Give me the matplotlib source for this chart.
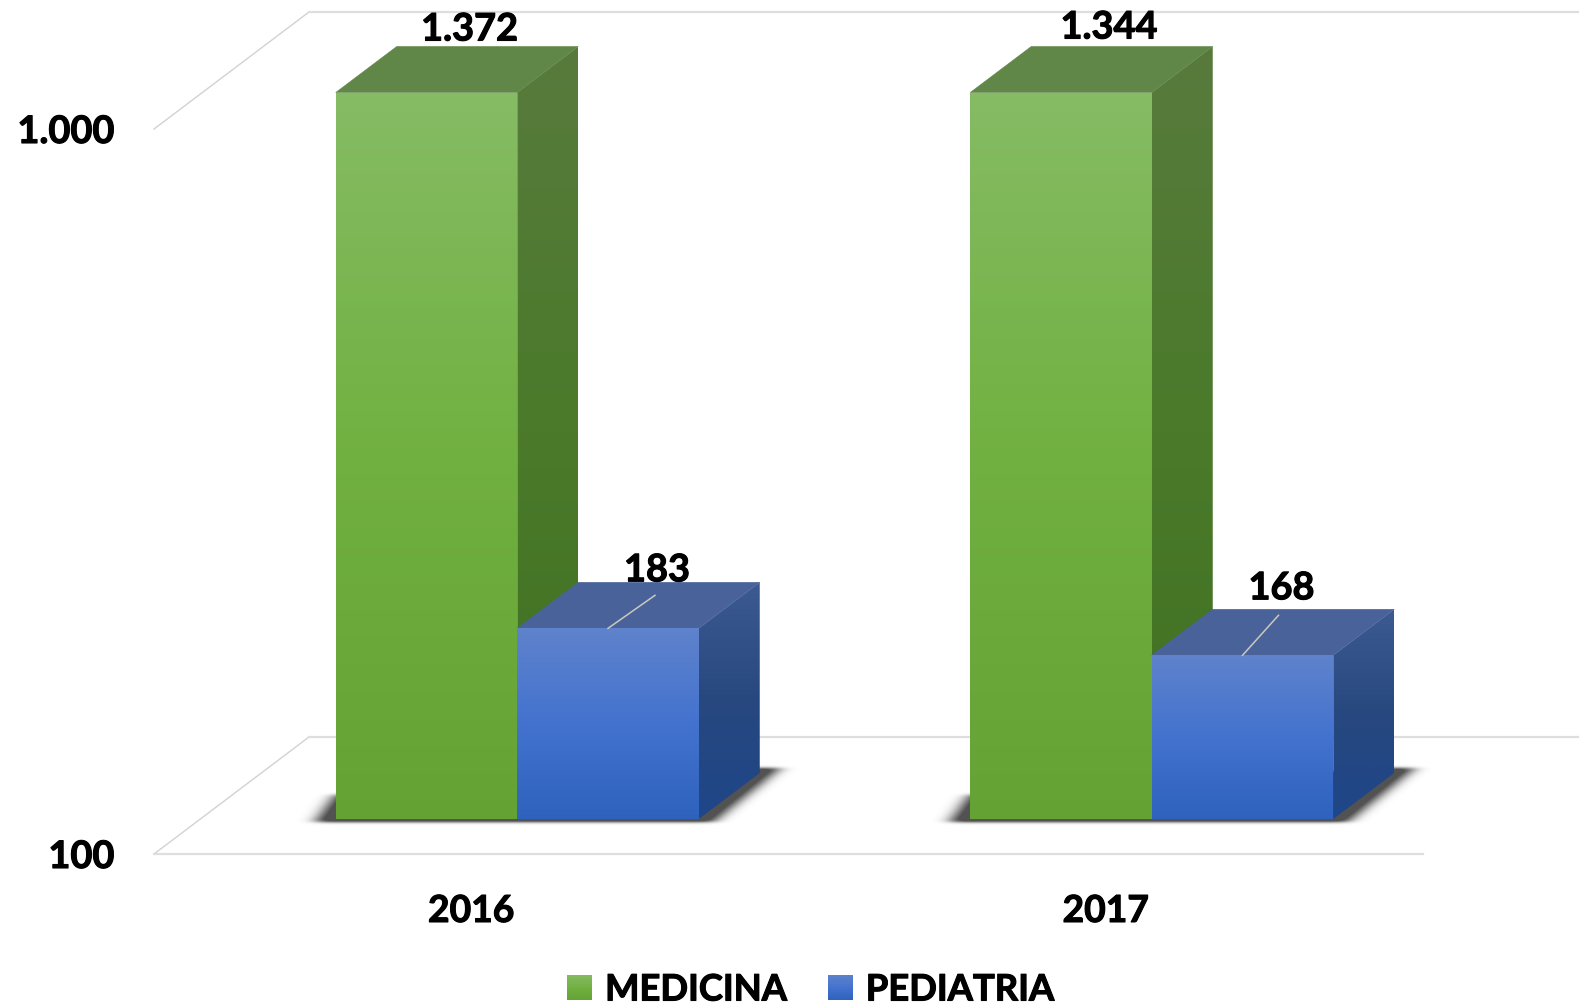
import numpy as np
import matplotlib
matplotlib.use("Agg")
import matplotlib.pyplot as plt
import matplotlib.patheffects as pe
from matplotlib.colors import LinearSegmentedColormap
from matplotlib.image import AxesImage
from matplotlib.legend_handler import HandlerBase
from matplotlib.patches import Patch, Polygon, Rectangle
from matplotlib.path import Path
from matplotlib.transforms import IdentityTransform

# ---- data ----
years = ["2016", "2017"]
series = ["MEDICINA", "PEDIATRIA"]
medicina = [1372, 1344]
pediatria = [183, 168]
medicina_labels = ["1.372", "1.344"]
pediatria_labels = ["183", "168"]
y_ticks = [100, 1000]
y_tick_labels = ["100", "1.000"]

# ---- style ----
W, H = 1588, 1005
DPI = 100
FONT = ["Lato", "DejaVu Sans"]
FS = 27.3
XFS = 26.8
plt.rcParams["font.family"] = FONT
plt.rcParams["font.weight"] = "bold"
thick = [pe.withStroke(linewidth=0.8, foreground="black")]

front_cols = [["#85BB63", "#70B040", "#64A233"], ["#5E82CB", "#4272CE", "#2E62BC"]]
side_cols = [["#587A3D", "#4A7A2A", "#3F6F20"], ["#3D5A92", "#27487F", "#1F4689"]]
top_cols = ["#608747", "#49639A"]
grid_col = "#DEDEDE"
diag_col = "#D2D2D2"
leader_col = "#C9C9BE"

BAR_W = 181.5 / 634.5      # bar width in category units
DEPTH = (61, 46)           # bar depth, display pixels
PLANE = (46, 35)           # bars' plane vs. front of the floor
FLOOR = (155, 117)         # full depth of the floor
ylim = (100, 1000)
xlim = (-0.5, 1.5)

label_off = [[(43, 63), (48, 65)], [(49, 58), (39, 67)]]
leader_off = [None, [(47, 33), (36, 40)]]


def axes_rect(x0, y_top, x1, y_bot):
    return [x0 / W, 1 - y_bot / H, (x1 - x0) / W, (y_bot - y_top) / H]


fig = plt.figure(figsize=(W / DPI, H / DPI), dpi=DPI, facecolor="white")

# front plane of the chart: carries axis, ticks and tick labels
ax0 = fig.add_axes(axes_rect(154, 129, 154 + 1269, 854), zorder=1)
ax0.set_yscale("log")
ax0.set_xlim(*xlim)
ax0.set_ylim(*ylim)
ax0.patch.set_alpha(0)
for s in ax0.spines.values():
    s.set_visible(False)
ax0.set_xticks(range(len(years)), years, fontsize=XFS, fontweight="bold")
ax0.set_yticks(y_ticks, y_tick_labels, fontsize=FS, fontweight="bold")
ax0.minorticks_off()
ax0.tick_params(axis="x", length=0, pad=29.5)
ax0.tick_params(axis="y", length=0, pad=28.5)
for t in ax0.get_xticklabels() + ax0.get_yticklabels():
    t.set_path_effects(thick)

# plane of the bars' front faces
ax = fig.add_axes(axes_rect(154 + PLANE[0], 129 - 36.5, 154 + PLANE[0] + 1269, 854 - PLANE[1]), zorder=2)
ax.set_yscale("log")
ax.set_xlim(*xlim)
ax.set_ylim(*ylim)
ax.axis("off")

identity = IdentityTransform()

# floor and wall lines
for tick in y_ticks:
    xl, yv = ax0.transData.transform((xlim[0], tick))
    xr, _ = ax0.transData.transform((xlim[1], tick))
    ax0.plot([xl, xl + FLOOR[0]], [yv, yv + FLOOR[1]], color=diag_col, lw=1.0,
             transform=identity, clip_on=False, zorder=1)
    ax0.plot([xl + FLOOR[0], xr + FLOOR[0]], [yv + FLOOR[1]] * 2, color=grid_col, lw=1.6,
             transform=identity, clip_on=False, zorder=1)
    if tick == y_ticks[0]:
        ax0.plot([xl, xr], [yv, yv], color=grid_col, lw=1.6, transform=identity,
                 clip_on=False, zorder=1)


def gauss(sigma):
    r = int(3 * sigma) + 1
    k = np.exp(-0.5 * (np.arange(-r, r + 1) / sigma) ** 2)
    return k / k.sum()


def add_image(arr, extent, zorder, clip=None, **kw):
    im = AxesImage(ax, origin="lower", extent=extent, transform=identity, zorder=zorder, **kw)
    im.set_data(arr)
    ax.add_image(im)
    im.set_clip_box(fig.bbox)
    if clip is not None:
        im.set_clip_path(Polygon(clip, closed=True, transform=identity))
    else:
        im.set_clip_path(None)
    return im


def add_shadow(xa, xb, yb):
    """Soft floor shadow: polygon mask in display pixels, blurred mostly sideways."""
    poly = Path([(xa - 20, yb - 3), (xa, yb + 24), (xb + DEPTH[0], yb + DEPTH[1] + 5),
                 (xb + DEPTH[0] + 20, yb + DEPTH[1] + 5), (xb + 14, yb - 3), (xa - 20, yb - 3)])
    x0, x1 = int(xa - 60), int(xb + DEPTH[0] + 70)
    y0, y1 = int(yb - 20), int(yb + DEPTH[1] + 25)
    xs, ys = np.meshgrid(np.arange(x0, x1) + 0.5, np.arange(y0, y1) + 0.5)
    mask = poly.contains_points(np.c_[xs.ravel(), ys.ravel()]).reshape(xs.shape).astype(float)
    kh, kv = gauss(8.0), gauss(1.5)
    mask = np.apply_along_axis(lambda r: np.convolve(r, kh, mode="same"), 1, mask)
    mask = np.apply_along_axis(lambda c: np.convolve(c, kv, mode="same"), 0, mask)
    rgba = np.zeros(mask.shape + (4,))
    rgba[..., :3] = 0.2
    rgba[..., 3] = np.clip(mask * 1.1, 0, 0.85)
    add_image(rgba, (x0, x1, y0, y1), 2, interpolation="nearest")


def gradient_face(pts, cmap, zorder):
    """Vertical gradient (cmap 0 = bottom, 1 = top) clipped to a polygon in display pixels."""
    pts = np.asarray(pts, float)
    x0, y0 = pts.min(axis=0)
    x1, y1 = pts.max(axis=0)
    add_image(np.linspace(0, 1, 256)[:, None], (x0, x1, y0, y1), zorder, clip=pts,
              cmap=cmap, norm=plt.Normalize(0, 1), interpolation="bilinear")


values = [medicina, pediatria]
labels = [medicina_labels, pediatria_labels]
front_maps = [LinearSegmentedColormap.from_list(s + "f", c[::-1]) for s, c in zip(series, front_cols)]
side_maps = [LinearSegmentedColormap.from_list(s + "s", c[::-1]) for s, c in zip(series, side_cols)]

for g in range(len(years)):
    # shadow on the floor
    xa, yb = ax.transData.transform((g - BAR_W, ylim[0]))
    xb, _ = ax.transData.transform((g + BAR_W, ylim[0]))
    add_shadow(xa, xb, yb)

    for s_i in range(len(series)):
        v = values[s_i][g]
        top = min(v, ylim[1])
        left = g - BAR_W + s_i * BAR_W
        right = left + BAR_W
        x0, y0 = ax.transData.transform((left, ylim[0]))
        x1, y1 = ax.transData.transform((right, top))
        base = 3 + s_i * 2

        # side face
        gradient_face([(x1, y0), (x1 + DEPTH[0], y0 + DEPTH[1]), (x1 + DEPTH[0], y1 + DEPTH[1]), (x1, y1)],
                      side_maps[s_i], base)
        # top face
        ax.add_patch(Polygon([(x0, y1), (x1, y1), (x1 + DEPTH[0], y1 + DEPTH[1]), (x0 + DEPTH[0], y1 + DEPTH[1])],
                             closed=True, fc=top_cols[s_i], ec=top_cols[s_i], lw=0.4,
                             transform=identity, clip_on=False, zorder=base))
        # front face
        ax.bar(left, top - ylim[0], width=BAR_W, bottom=ylim[0], align="edge",
               color=front_cols[s_i][1], zorder=base + 0.5)
        edges = np.geomspace(ylim[0], top, 81)
        grad = np.linspace(0, 1, 80)[:, None]
        ax.pcolormesh([left, right], edges, grad, cmap=front_maps[s_i], vmin=0, vmax=1,
                      zorder=base + 0.6, shading="flat")

        # value label
        cx = (left + right) / 2
        ann = ax.annotate(labels[s_i][g], xy=(cx, top), xycoords="data",
                          xytext=label_off[s_i][g], textcoords="offset pixels",
                          ha="center", va="center", fontsize=FS, fontweight="bold",
                          color="black", annotation_clip=False, zorder=10)
        ann.set_path_effects(thick)
        if leader_off[s_i] is not None:
            xc, yc = ax.transData.transform((cx, top))
            dx, dy = leader_off[s_i][g]
            ax.plot([xc, xc + dx], [yc, yc + dy], color=leader_col, lw=1.1, transform=identity,
                    clip_on=False, zorder=10)

ax.set_xlim(*xlim)
ax.set_ylim(*ylim)


class GradientHandler(HandlerBase):
    def create_artists(self, legend, orig, xd, yd, width, height, fontsize, trans):
        cmap = orig.gradient
        n = 24
        arts = []
        for k in range(n):
            r = Rectangle((xd * -1, yd * -1 + height * k / n), width, height / n + 0.3,
                          fc=cmap((k + 0.5) / n), ec="none", transform=trans)
            arts.append(r)
        return arts


handles = []
for s_i, name in enumerate(series):
    p = Patch(color=front_cols[s_i][1], label=name)
    p.gradient = front_maps[s_i]
    handles.append(p)

LFS = 26.2
leg = fig.legend(handles=handles, labels=series, loc="center", bbox_to_anchor=(810.5 / W, 1 - 990 / H),
                 ncol=2, frameon=False, prop={"family": FONT, "weight": "bold", "size": LFS},
                 handler_map={h: GradientHandler() for h in handles},
                 handlelength=0.68, handleheight=0.68, handletextpad=0.36, columnspacing=1.14,
                 borderpad=0, borderaxespad=0)
for t in leg.get_texts():
    t.set_path_effects(thick)

fig.savefig("out.png", dpi=DPI, facecolor="white")
